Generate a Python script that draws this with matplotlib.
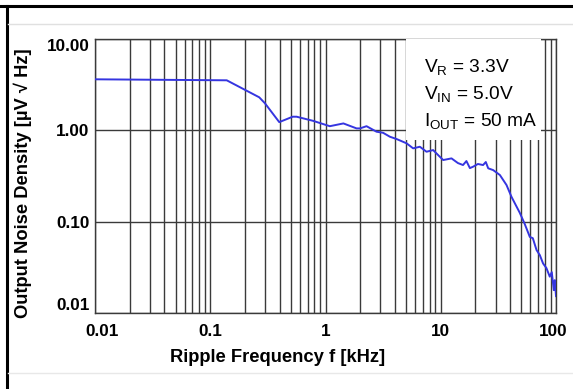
import matplotlib
matplotlib.use("Agg")
import matplotlib.pyplot as plt
from matplotlib.ticker import FixedLocator, NullFormatter, NullLocator
from matplotlib.patches import Rectangle
from matplotlib.lines import Line2D
import matplotlib.transforms as mtransforms

plt.rcParams['font.family'] = ['Liberation Sans', 'DejaVu Sans']
plt.rcParams['mathtext.fontset'] = 'custom'
plt.rcParams['mathtext.rm'] = 'Liberation Sans'
plt.rcParams['mathtext.it'] = 'Liberation Sans:italic'
plt.rcParams['mathtext.bf'] = 'Liberation Sans:bold'

# ---- data ----
freq_khz = [0.01, 0.139, 0.266, 0.298, 0.397, 0.519, 0.561, 0.781, 1.09, 1.43,
            1.86, 1.99, 2.27, 2.77, 3.16, 3.62, 4.14, 5.05, 5.76, 6.59,
            7.52, 8.59, 9.49, 10.5, 12.4, 14.1, 15.6, 16.7, 17.9, 19.1,
            21.0, 23.3, 24.6, 25.8, 28.5, 32.6, 37.2, 41.1, 48.5, 53.6,
            59.3, 62.9, 67.8, 72.4, 77.2, 82.6, 88.3, 91.9, 95.7, 97.7, 100.0]
noise_uv = [3.62, 3.53, 2.30, 1.98, 1.23, 1.41, 1.41, 1.27, 1.11, 1.19,
            1.05, 1.05, 1.11, 0.966, 0.94, 0.851, 0.803, 0.721, 0.635, 0.661,
            0.583, 0.608, 0.536, 0.473, 0.493, 0.438, 0.417, 0.461, 0.386, 0.40,
            0.428, 0.417, 0.45, 0.384, 0.367, 0.324, 0.252, 0.187, 0.125, 0.094,
            0.068, 0.066, 0.0489, 0.043, 0.0349, 0.031, 0.025, 0.028, 0.0178, 0.0229, 0.0153]

x_major = [0.01, 0.1, 1, 10, 100]
x_major_labels = ["0.01", "0.1", "1", "10", "100"]
y_major = [0.01, 0.1, 1, 10]
y_major_labels = ["0.01", "0.10", "1.00", "10.00"]
conditions = [r"V$_{\mathrm{R}}$ = 3.3V", r"V$_{\mathrm{IN}}$ = 5.0V", r"I$_{\mathrm{OUT}}$ = 50 mA"]

W, H = 573, 389
fig = plt.figure(figsize=(W / 100, H / 100), dpi=100)
fig.patch.set_facecolor('white')

ax = fig.add_axes([95 / W, 1 - 313 / H, 461 / W, 274 / H])
ax.set_xscale('log')
ax.set_yscale('log')
ax.set_xlim(0.01, 100)
ax.set_ylim(0.01, 10)

# grid: vertical at all decades & minor ticks, horizontal at decades only
minor_x = [m * 10.0 ** e for e in range(-2, 2) for m in range(2, 10)]
ax.xaxis.set_major_locator(FixedLocator(x_major))
ax.xaxis.set_minor_locator(FixedLocator(minor_x))
ax.yaxis.set_major_locator(FixedLocator(y_major))
ax.yaxis.set_minor_locator(NullLocator())
ax.xaxis.set_minor_formatter(NullFormatter())
ax.set_xticklabels(x_major_labels)
ax.set_yticklabels(y_major_labels)
ax.grid(True, which='major', axis='both', color='#3a3a3a', lw=1.0)
ax.grid(True, which='minor', axis='x', color='#3a3a3a', lw=1.0)
ax.tick_params(which='both', length=0, pad=4)
ax.tick_params(axis='x', pad=8)
for lab in ax.get_xticklabels() + ax.get_yticklabels():
    lab.set_fontweight('bold')
    lab.set_fontsize(12.3)
for s in ax.spines.values():
    s.set_color('#3a3a3a')
    s.set_linewidth(1.0)

# adjust end labels
ylabs = ax.get_yticklabels()
ylabs[0].set_va('bottom')
ylabs[-1].set_va('top')
xlabs = ax.get_xticklabels()
xlabs[0].set_transform(xlabs[0].get_transform() + mtransforms.ScaledTranslation(7 / 100, 0, fig.dpi_scale_trans))
xlabs[-1].set_transform(xlabs[-1].get_transform() + mtransforms.ScaledTranslation(-3 / 100, 0, fig.dpi_scale_trans))

ax.plot(freq_khz, noise_uv, color='#3535e0', lw=1.4, zorder=3)

# condition box
ax.add_patch(Rectangle((0.6746, 0.631), 0.2929, 0.369, transform=ax.transAxes,
                       facecolor='white', edgecolor='none', zorder=4))
for t, yy in zip(conditions, [0.881, 0.780, 0.682]):
    ax.text(0.7137, yy, t, transform=ax.transAxes, fontsize=13.8, va='baseline',
            ha='left', zorder=5, color='black')

fig.text(278 / W, 1 - 357 / H, "Ripple Frequency f [kHz]", ha='center', va='center',
         fontsize=13.2, fontweight='bold')
fig.text(23 / W, 1 - 183 / H, "Output Noise Density [µV √ Hz]", ha='center', va='center',
         rotation=90, fontsize=13.2, fontweight='bold')

# figure frame decorations
fig.add_artist(Line2D([0, 1], [1 - 6 / H, 1 - 6 / H], transform=fig.transFigure, color='black', lw=2.2))
fig.add_artist(Line2D([7 / W, 7 / W], [0, 1 - 6 / H], transform=fig.transFigure, color='black', lw=2.2))
fig.add_artist(Line2D([8 / W, 1], [1 - 24 / H, 1 - 24 / H], transform=fig.transFigure, color='#e0e0e0', lw=1.0))
fig.add_artist(Line2D([8 / W, 1], [1 - 373 / H, 1 - 373 / H], transform=fig.transFigure, color='#e8e8e8', lw=1.0))

fig.savefig("out.png", dpi=100)
